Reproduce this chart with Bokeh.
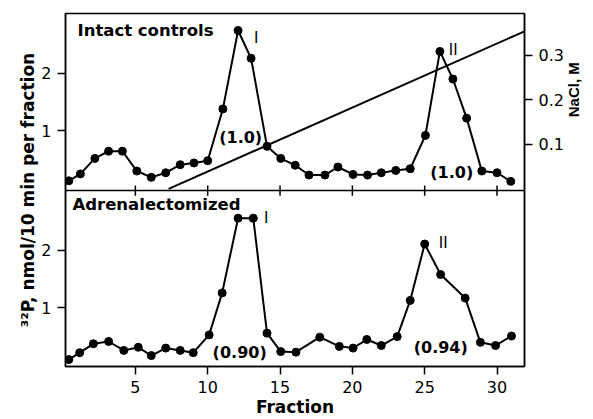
import math
from bokeh.plotting import figure
from bokeh.models import (Range1d, LinearAxis, FixedTicker, Span, Label,
                          CustomJSTickFormatter, ColumnDataSource)
from bokeh.embed import file_html
from bokeh.resources import INLINE

# ---------------- data ----------------
top_fraction = [0.4, 1.2, 2.2, 3.15, 4.1, 5.1, 6.1, 7.1, 8.1, 9.05, 10.0, 11.05,
                12.1, 13.0, 14.1, 15.05, 16.05, 17.0, 18.1, 19.0, 20.05, 21.05,
                22.0, 23.0, 24.0, 25.05, 26.05, 26.95, 27.9, 28.95, 30.0, 30.95]
top_p32 = [0.13, 0.25, 0.52, 0.645, 0.645, 0.30, 0.19, 0.27, 0.41, 0.44, 0.48, 1.38,
           2.745, 2.26, 0.73, 0.52, 0.40, 0.23, 0.23, 0.37, 0.24, 0.23,
           0.27, 0.31, 0.34, 0.92, 2.38, 1.90, 1.22, 0.30, 0.27, 0.12]

bottom_fraction = [0.4, 1.15, 2.1, 3.15, 4.2, 5.2, 6.1, 7.1, 8.1, 9.0, 10.1, 11.0,
                   12.1, 13.15, 14.1, 15.05, 16.1, 17.75, 19.1, 20.05, 21.0, 22.0,
                   23.1, 24.0, 25.0, 26.1, 27.8, 28.85, 29.9, 31.0]
bottom_p32 = [0.10, 0.22, 0.375, 0.415, 0.26, 0.315, 0.17, 0.30, 0.26, 0.22, 0.53, 1.26,
              2.56, 2.56, 0.56, 0.24, 0.23, 0.49, 0.33, 0.30, 0.45, 0.345,
              0.50, 1.13, 2.11, 1.58, 1.17, 0.40, 0.345, 0.51]

gradient_fraction = [7.3, 31.9]
gradient_nacl = [0.0, 0.354]

x_ticks = [5, 10, 15, 20, 25, 30]
p32_ticks = [1, 2]
nacl_ticks = [0.1, 0.2, 0.3]

# ---------------- layout constants ----------------
OFFSET = 3.08          # vertical shift of the upper panel inside the single frame
DIVIDER = 3.04         # boundary between the two panels (main y units)
NACL_TITLE_AT = 0.161  # where the NaCl title starts along the right side
FONT = "DejaVu Sans"

p = figure(width=593, height=419, output_backend="svg", toolbar_location=None,
           x_range=Range1d(0.17, 31.9), y_range=Range1d(-0.02, 6.12),
           min_border_left=65, min_border_right=68, min_border_top=13,
           min_border_bottom=53)
p.extra_y_ranges = {"top": Range1d(-0.02 - OFFSET, 6.12 - OFFSET),
                    "nacl": Range1d(-0.399, 0.394)}
p.grid.visible = False
p.outline_line_color = "black"
p.outline_line_width = 1.5
p.background_fill_color = "white"
p.border_fill_color = "white"

# bottom axis
xa = p.xaxis[0]
xa.ticker = FixedTicker(ticks=x_ticks)
xa.major_tick_out = 8
xa.major_tick_in = 0
xa.minor_tick_out = 0
xa.minor_tick_in = 0
xa.major_tick_line_width = 1.5
xa.axis_line_width = 1.5
xa.major_label_standoff = 6
xa.major_label_text_font = FONT
xa.major_label_text_font_size = "16px"
xa.major_label_text_color = "black"
xa.axis_label = "Fraction"
xa.axis_label_text_font = FONT
xa.axis_label_text_font_style = "bold"
xa.axis_label_text_font_size = "17px"
xa.axis_label_standoff = 1
xa.axis_label_text_color = "black"

# left axis (both panels)
ya = p.yaxis[0]
ya.ticker = FixedTicker(ticks=p32_ticks + [t + OFFSET for t in p32_ticks])
ya.formatter = CustomJSTickFormatter(args=dict(offset=OFFSET),
    code="return String(Math.round(tick > offset ? tick - offset : tick));")
ya.major_tick_out = 8
ya.major_tick_in = 0
ya.minor_tick_out = 0
ya.minor_tick_in = 0
ya.major_tick_line_width = 1.5
ya.axis_line_width = 1.5
ya.major_label_standoff = 6
ya.major_label_text_font = FONT
ya.major_label_text_font_size = "16px"
ya.major_label_text_color = "black"
ya.axis_label = "³²P, nmol/10 min per fraction"
ya.axis_label_text_font = FONT
ya.axis_label_text_font_style = "bold"
ya.axis_label_text_font_size = "17px"
ya.axis_label_standoff = 0
ya.axis_label_text_color = "black"

# right axis (NaCl, upper panel)
ra = LinearAxis(y_range_name="nacl", ticker=FixedTicker(ticks=nacl_ticks))
ra.major_tick_out = 8
ra.major_tick_in = 0
ra.minor_tick_out = 0
ra.minor_tick_in = 0
ra.major_tick_line_width = 1.5
ra.axis_line_width = 1.5
ra.major_label_standoff = 6
ra.major_label_text_font = FONT
ra.major_label_text_font_size = "16px"
ra.major_label_text_color = "black"
p.add_layout(ra, "right")

# NaCl title: a single rotated label on an extra right axis, beside the upper panel
rt = LinearAxis(y_range_name="nacl", ticker=FixedTicker(ticks=[NACL_TITLE_AT]),
                formatter=CustomJSTickFormatter(code="return 'NaCl, M';"))
rt.axis_line_color = None
rt.major_tick_line_color = None
rt.major_tick_out = 0
rt.major_tick_in = 0
rt.minor_tick_out = 0
rt.minor_tick_in = 0
rt.major_label_orientation = math.pi / 2
rt.major_label_standoff = 7
rt.major_label_text_font = "Liberation Sans"
rt.major_label_text_font_style = "bold"
rt.major_label_text_font_size = "15px"
rt.major_label_text_color = "black"
p.add_layout(rt, "right")

# divider between panels, with its tick marks
p.add_layout(Span(location=DIVIDER, dimension="width", line_color="black",
                  line_width=1.5))
p.segment(x0=x_ticks, x1=x_ticks, y0=[DIVIDER - 0.09] * len(x_ticks),
          y1=[DIVIDER + 0.09] * len(x_ticks), line_color="black", line_width=1.5)

# salt gradient
p.line(gradient_fraction, gradient_nacl, y_range_name="nacl",
       line_color="black", line_width=2)

# upper panel: intact controls
src_top = ColumnDataSource(dict(x=top_fraction, y=top_p32))
p.line("x", "y", source=src_top, y_range_name="top", line_color="black", line_width=2)
p.scatter("x", "y", source=src_top, y_range_name="top", size=8, color="black")

# lower panel: adrenalectomized
src_bot = ColumnDataSource(dict(x=bottom_fraction, y=bottom_p32))
p.line("x", "y", source=src_bot, line_color="black", line_width=2)
p.scatter("x", "y", source=src_bot, size=8, color="black")

def lab(text, x, y, rng="default", size="16.5px", style="bold", align="left",
        baseline="alphabetic"):
    p.add_layout(Label(x=x, y=y, text=text, y_range_name=rng, text_font=FONT,
                       text_font_size=size, text_font_style=style, text_align=align,
                       text_baseline=baseline, text_color="black"))

lab("Intact controls", 1.0, 2.75, rng="top")
lab("Adrenalectomized", 0.65, 2.80)
lab("I", 13.35, 2.61, rng="top", size="15px", style="normal", align="center")
lab("II", 26.97, 2.40, rng="top", size="15px", style="normal", align="center")
lab("I", 14.04, 2.56, size="15px", style="normal", align="center")
lab("II", 26.28, 2.12, size="15px", style="normal", align="center")
lab("(1.0)", 12.28, 0.89, rng="top", size="16px", align="center")
lab("(1.0)", 26.87, 0.28, rng="top", size="16px", align="center")
lab("(0.90)", 12.21, 0.23, size="16px", align="center")
lab("(0.94)", 26.11, 0.31, size="16px", align="center")

open("out.html", "w").write(file_html(p, INLINE))
